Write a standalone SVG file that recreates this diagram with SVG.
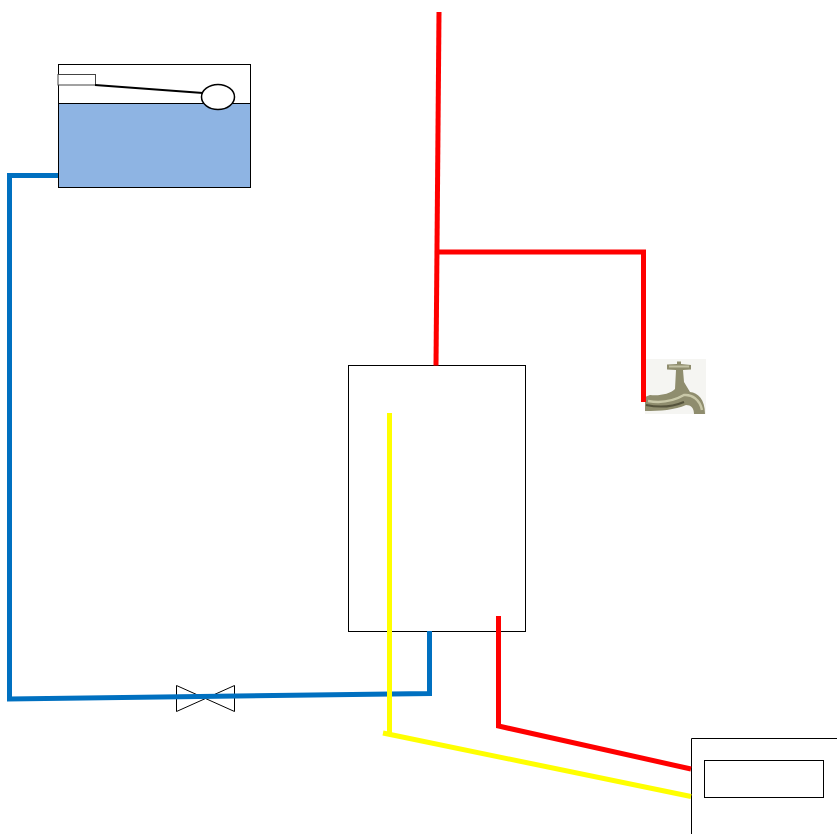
<svg xmlns="http://www.w3.org/2000/svg" width="837" height="834" viewBox="0 0 837 834">
<style>
.box{fill:#fff;stroke:#000;stroke-width:1}
.pipe{fill:none;stroke-width:5;stroke-linejoin:miter}
.blue{stroke:#0070c0}.red{stroke:#f00}.yellow{stroke:#ff0}
.thin{fill:none;stroke:#000;stroke-width:1}
</style>
<rect width="837" height="834" fill="#fff"/>
<g id="tank">
<rect x="58.500" y="64.500" width="192" height="123" class="box"/>
<rect x="58.500" y="103.500" width="192" height="84" fill="#8eb4e3" stroke="#000" stroke-width="1"/>
<rect x="58" y="74.500" width="37.500" height="10.500" fill="#fff" stroke="#444" stroke-width="1"/>
<line x1="95" y1="85" x2="203" y2="93" stroke="#000" stroke-width="2"/>
<ellipse cx="218" cy="97" rx="16.500" ry="12.500" fill="#fff" stroke="#000" stroke-width="1.500"/>
</g>
<g id="boiler"><rect x="348.500" y="365.500" width="177" height="266" class="box"/></g>
<g id="radiator">
<path d="M691.500 834V738.500H837" class="box"/>
<rect x="704.500" y="760.500" width="119" height="37" class="box"/>
</g>
<g id="tap">
<rect x="645" y="359" width="61" height="55" fill="#f5f5f2"/>
<path d="M667 364.500L677 364V361.500H681V364L691 365V369.500L683 370L684 382L690 392C698 393 705 399 705 414H694C694 408 691 405 686 405C675 410 660 411 645 411V397L650 395C660 396 670 394 675 389L676 370L667 369.500Z" fill="#8f8d6e"/>
<path d="M648 401C660 403 672 402 684 395C692 394 700 400 702 410" fill="none" stroke="#c9c8a8" stroke-width="2.500"/>
<path d="M669 366.500H689" stroke="#c2c1a5" stroke-width="2"/>
<path d="M646 405C660 408 672 407 684 402" fill="none" stroke="#55533c" stroke-width="2"/>
</g>
<g id="valve"><path d="M176.500 685.500V711.500L234.500 685.500V711.500Z" class="thin"/></g>
<g id="connectors">
<path d="M58 175.500H9.500V699L429.500 693.500V631" class="pipe blue"/>
<path d="M439 12L436 365.500" class="pipe red"/>
<path d="M437 252H643.500V402" class="pipe red"/>
<path d="M498.500 616V726L691 769" class="pipe red"/>
<path d="M389.500 413V734" class="pipe yellow"/>
<path d="M383 733L691 796.500" class="pipe yellow"/>
</g>
</svg>
